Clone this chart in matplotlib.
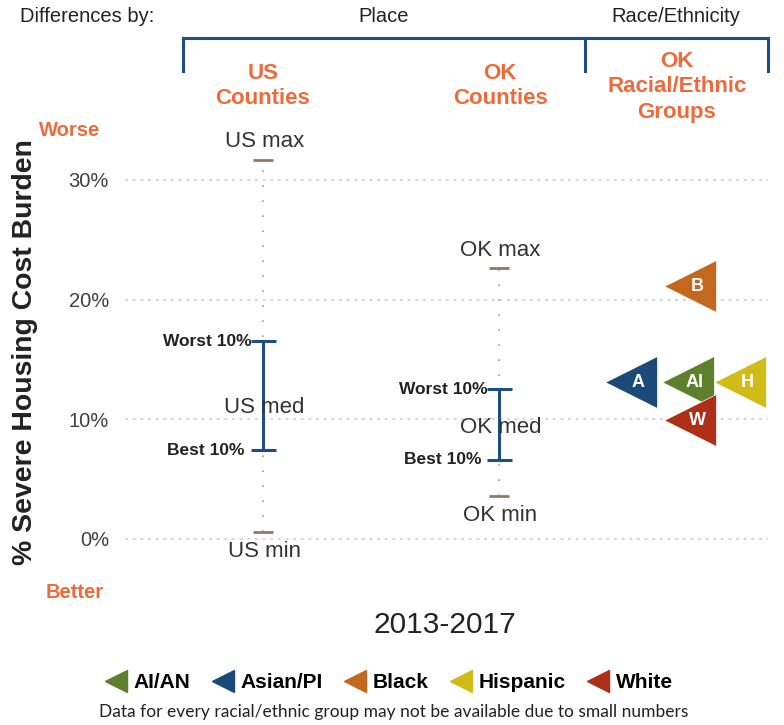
import matplotlib.pyplot as plt
from matplotlib.lines import Line2D

plt.rcParams['font.family'] = ['Liberation Sans', 'DejaVu Sans']

# county distributions (share of households, %)
places = ["US", "OK"]
place_x = [1.0, 2.0]
p_min = [0.6, 3.6]
p_best10 = [7.4, 6.6]
p_med = [11.0, 9.3]
p_worst10 = [16.5, 12.5]
p_max = [31.7, 22.6]

# OK racial/ethnic groups
groups = ["AI/AN", "Asian/PI", "Black", "Hispanic", "White"]
group_letter = ["AI", "A", "B", "H", "W"]
group_val = [13.1, 13.1, 21.1, 13.1, 9.9]
group_x = [2.80, 2.56, 2.81, 3.02, 2.81]
group_col = ["#5e7f2b", "#1b4a79", "#c4681f", "#d1bb16", "#ad2f17"]

orange = "#ee6a3a"
navy = "#1f4e86"
W, H = 784, 725

fig = plt.figure(figsize=(W / 100, H / 100), dpi=100)
ax = fig.add_axes([120 / W, (H - 600) / H, 655 / W, 480 / H])
ax.set_ylim(-5.1, 35.0)
ax.set_xlim(0.394, 3.169)
for s in ax.spines.values():
    s.set_visible(False)
ax.set_xticks([])
ax.set_yticks([0, 10, 20, 30])
ax.set_yticklabels(["0%", "10%", "20%", "30%"], fontsize=14.5, color="#404040")
ax.tick_params(axis="y", length=0, pad=8)
for yv in [0, 10, 20, 30]:
    ax.axhline(yv, xmin=0.008, xmax=0.99, color="#cccccc", lw=1.1,
               ls=(0, (2, 3)), zorder=0)

for i, name in enumerate(places):
    x = place_x[i]
    ax.plot([x, x], [p_min[i], p_max[i]], color="#a0a0a0", lw=1.2,
            ls=(0, (1, 8)), zorder=1)
    ax.plot([x, x], [p_max[i], p_min[i]], ls="none", marker="_", ms=15,
            mew=2, color="#8f7a66", zorder=2)
    ax.errorbar([x], [p_med[i]], yerr=[[p_med[i] - p_best10[i]], [p_worst10[i] - p_med[i]]],
                fmt="none", ecolor=navy, elinewidth=2.2, capsize=9, capthick=2.2, zorder=3)
    ax.annotate(name + " max", (x, p_max[i]), xytext=(1, 13), textcoords="offset points",
                ha="center", va="center", fontsize=16, color="#333333")
    ax.annotate(name + " min", (x, p_min[i]), xytext=(1, -14), textcoords="offset points",
                ha="center", va="center", fontsize=16, color="#333333")
    ax.annotate(name + " med", (x, p_med[i]), xytext=(1, 0), textcoords="offset points",
                ha="center", va="center", fontsize=16, color="#333333", zorder=4)
    ax.annotate("Worst 10%", (x, p_worst10[i]), xytext=(-8, 0), textcoords="offset points",
                ha="right", va="center", fontsize=12.5, color="#222222", weight="bold")
    ax.annotate("Best 10%", (x, p_best10[i]), xytext=(-13, 0), textcoords="offset points",
                ha="right", va="center", fontsize=12.5, color="#222222", weight="bold")

for i in range(len(groups)):
    ax.plot(group_x[i], group_val[i], marker="<", ms=38, color=group_col[i],
            mec="white", mew=0.5, zorder=5)
    ax.annotate(group_letter[i], (group_x[i], group_val[i]), xytext=(5, 0),
                textcoords="offset points", ha="center", va="center",
                fontsize=13, weight="bold", color="white", zorder=6)


def fx(px):
    return px / W


def fy(py):
    return 1 - py / H


# header bracket
br = dict(color=navy, lw=2.2, transform=fig.transFigure)
fig.add_artist(Line2D([fx(183), fx(768)], [fy(38), fy(38)], **br))
for bx in [183, 585, 768]:
    fig.add_artist(Line2D([fx(bx), fx(bx)], [fy(38), fy(71)], **br))

fig.text(fx(20), fy(17), "Differences by:", fontsize=14.5, color="#222222", va="center")
fig.text(fx(384), fy(17), "Place", fontsize=14.5, color="#222222", ha="center", va="center")
fig.text(fx(676), fy(17), "Race/Ethnicity", fontsize=14.5, color="#222222", ha="center", va="center")

hdr = dict(fontsize=16, weight="bold", color=orange, ha="center", va="center", linespacing=1.3)
fig.text(fx(263), fy(86), "US\nCounties", **hdr)
fig.text(fx(500), fy(86), "OK\nCounties", **hdr)
fig.text(fx(677), fy(87), "OK\nRacial/Ethnic\nGroups", **hdr)

fig.text(fx(70), fy(130), "Worse", fontsize=14.5, weight="bold", color=orange, ha="center", va="center")
fig.text(fx(75), fy(593), "Better", fontsize=14.5, weight="bold", color=orange, ha="center", va="center")
fig.text(fx(25), fy(352), "% Severe Housing Cost Burden", fontsize=20.4, weight="bold",
         color="#222222", rotation=90, ha="center", va="center")
fig.text(fx(445), fy(625), "2013-2017", fontsize=21.5, color="#222222", ha="center", va="center")

handles = [Line2D([], [], ls="none", marker="<", ms=16, color=c) for c in group_col]
fig.legend(handles, groups, loc="center", bbox_to_anchor=(fx(389), fy(683)), ncol=5,
           frameon=False, prop=dict(size=15, weight="bold"), handletextpad=0.35,
           columnspacing=1.05, handlelength=1.0, borderpad=0, borderaxespad=0)

fig.text(fx(394), fy(712), "Data for every racial/ethnic group may not be available due to small numbers",
         fontsize=12.5, family="Lato", color="#222222", ha="center", va="center")

fig.savefig("out.png", dpi=100)
